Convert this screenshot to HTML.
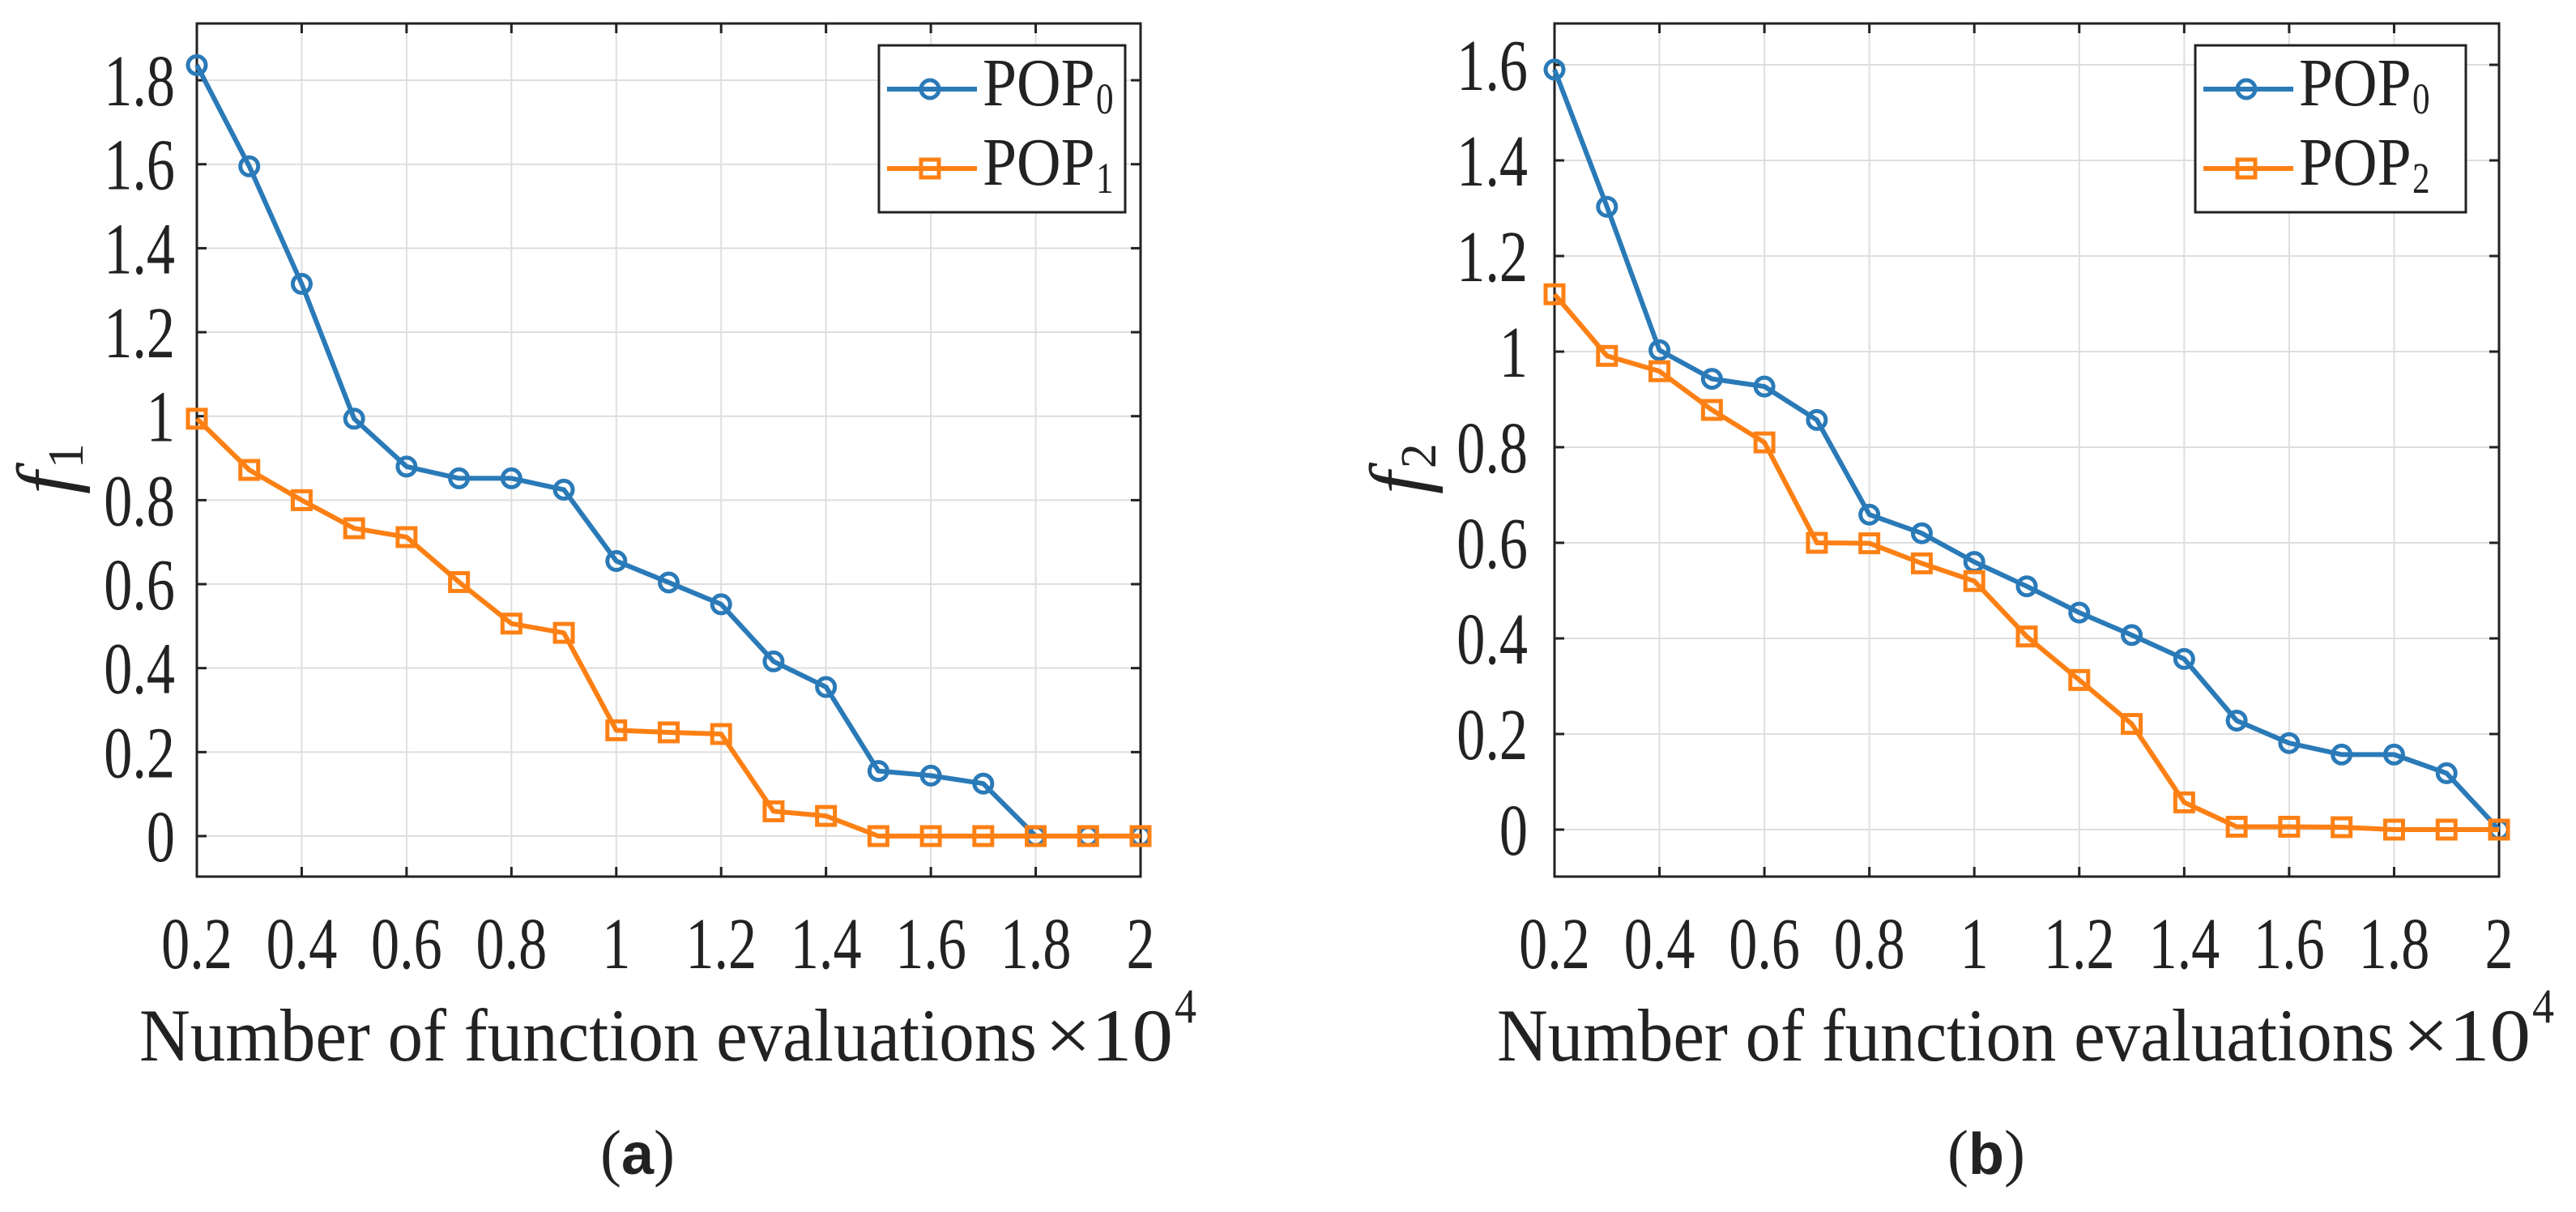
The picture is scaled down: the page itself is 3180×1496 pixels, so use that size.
<!DOCTYPE html>
<html><head><meta charset="utf-8">
<style>
html,body{margin:0;padding:0;background:#fff;}
svg{display:block;}
text{font-family:"Liberation Serif",serif;fill:#222;}
</style></head>
<body>
<svg id="fig" width="3180" height="1496" viewBox="0 0 3180 1496" xmlns="http://www.w3.org/2000/svg"></svg>
<script>
const xValues = [0.2,0.3,0.4,0.5,0.6,0.7,0.8,0.9,1.0,1.1,1.2,1.3,1.4,1.5,1.6,1.7,1.8,1.9,2.0];
const a_pop0 = [1.836,1.595,1.315,0.994,0.88,0.852,0.852,0.825,0.655,0.604,0.552,0.416,0.355,0.155,0.144,0.125,0,0,0];
const a_pop1 = [0.994,0.872,0.80,0.733,0.712,0.605,0.506,0.484,0.252,0.247,0.243,0.059,0.048,0,0,0,0,0,0];
const b_pop0 = [1.59,1.303,1.003,0.943,0.927,0.857,0.659,0.62,0.56,0.509,0.454,0.407,0.357,0.228,0.181,0.157,0.157,0.118,0];
const b_pop2 = [1.12,0.991,0.959,0.878,0.81,0.6,0.599,0.557,0.52,0.404,0.313,0.221,0.057,0.006,0.006,0.005,0,0,0];
const xTicks = [0.2,0.4,0.6,0.8,1,1.2,1.4,1.6,1.8,2];
const xTickLabels = ["0.2","0.4","0.6","0.8","1","1.2","1.4","1.6","1.8","2"];
const aYTicks = [0,0.2,0.4,0.6,0.8,1,1.2,1.4,1.6,1.8];
const aYTickLabels = ["0","0.2","0.4","0.6","0.8","1","1.2","1.4","1.6","1.8"];
const bYTicks = [0,0.2,0.4,0.6,0.8,1,1.2,1.4,1.6];
const bYTickLabels = ["0","0.2","0.4","0.6","0.8","1","1.2","1.4","1.6"];

const NS="http://www.w3.org/2000/svg";
const svg=document.getElementById('fig');
const BLUE="#2a7ab8", ORANGE="#fd8014";
function mk(tag,attrs,parent){const e=document.createElementNS(NS,tag);for(const k in attrs)e.setAttribute(k,attrs[k]);(parent||svg).appendChild(e);return e;}

function panel(cfg){
  const g=mk('g',{});
  
  
  const L=cfg.left,R=cfg.right,T=29,B=1082;
  const X=v=>L+(v-0.2)/1.8*(R-L);
  const Y=v=>cfg.y0-v*cfg.unit;
  // grid
  xTicks.forEach(v=>{const l=mk('line',{x1:X(v),x2:X(v),y1:T,y2:B,stroke:'#dedede','stroke-width':2},g);
    });
  cfg.yTicks.forEach(v=>{const l=mk('line',{x1:L,x2:R,y1:Y(v),y2:Y(v),stroke:'#dedede','stroke-width':2},g);
    });
  // ticks
  xTicks.forEach((v,i)=>{
    mk('line',{x1:X(v),x2:X(v),y1:B,y2:B-12,stroke:'#222','stroke-width':3},g);
    mk('line',{x1:X(v),x2:X(v),y1:T,y2:T+12,stroke:'#222','stroke-width':3},g);
    const t=mk('text',{x:0,y:0,'font-size':90,'text-anchor':'middle',transform:`translate(${X(v)},1195) scale(0.78,1)`},g);
    t.textContent=xTickLabels[i];
    
  });
  cfg.yTicks.forEach((v,i)=>{
    mk('line',{x1:L,x2:L+12,y1:Y(v),y2:Y(v),stroke:'#222','stroke-width':3},g);
    mk('line',{x1:R,x2:R-12,y1:Y(v),y2:Y(v),stroke:'#222','stroke-width':3},g);
    const t=mk('text',{x:0,y:0,'font-size':90,'text-anchor':'end',transform:`translate(${cfg.ylabX},${Y(v)+31}) scale(0.78,1)`},g);
    t.textContent=cfg.yTickLabels[i];
    
  });
  // axes box
  const box=mk('rect',{x:L,y:T,width:R-L,height:B-T,fill:'none',stroke:'#222','stroke-width':3},g);
  
  // series
  function series(vals,color,marker,nm){
    const sg=mk('g',{},g);
    
    const pts=vals.map((v,i)=>X(xValues[i])+','+Y(v)).join(' ');
    mk('polyline',{points:pts,fill:'none',stroke:color,'stroke-width':6,'stroke-linejoin':'round'},sg);
    vals.forEach((v,i)=>{
      let m;
      if(marker==='o') m=mk('circle',{cx:X(xValues[i]),cy:Y(v),r:11,fill:'none',stroke:color,'stroke-width':5},sg);
      else m=mk('rect',{x:X(xValues[i])-11,y:Y(v)-11,width:22,height:22,fill:'none',stroke:color,'stroke-width':5},sg);
      
    });
  }
  series(cfg.s1,BLUE,'o','series-pop0');
  series(cfg.s2,ORANGE,'s','series-'+cfg.s2name.toLowerCase());
  // legend
  const lg=mk('g',{},g);
  
  const lx=cfg.legX,lw=cfg.legW;
  mk('rect',{x:lx,y:56,width:lw,height:206,fill:'#fff',stroke:'#222','stroke-width':3},lg);
  [[110,BLUE,'o','0'],[208,ORANGE,'s',cfg.s2sub]].forEach(r=>{
    const eg=mk('g',{},lg);
    
    mk('line',{x1:lx+10,x2:lx+121,y1:r[0],y2:r[0],stroke:r[1],'stroke-width':6},eg);
    if(r[2]==='o') mk('circle',{cx:lx+63,cy:r[0],r:11,fill:'none',stroke:r[1],'stroke-width':5},eg);
    else mk('rect',{x:lx+52,y:r[0]-11,width:22,height:22,fill:'none',stroke:r[1],'stroke-width':5},eg);
    const t=mk('text',{x:0,y:0,'font-size':84,transform:`translate(${lx+128},${r[0]+20}) scale(0.9,1)`},eg);
    t.textContent='POP';
    const s=mk('text',{x:0,y:0,'font-size':54,transform:`translate(${lx+268},${r[0]+30}) scale(0.8,1)`},eg);
    s.textContent=r[3];
  });
  // x label
  const xl=mk('g',{},g);
  
  const off=cfg.off;
  const t1=mk('text',{x:172+off,y:1309,'font-size':92,textLength:1108,lengthAdjust:'spacingAndGlyphs'},xl);
  t1.textContent='Number of function evaluations';
  const t2=mk('text',{x:1290+off,y:1309,'font-size':92,textLength:158,lengthAdjust:'spacingAndGlyphs'},xl);
  t2.textContent='×10';
  const t3=mk('text',{x:1450+off,y:1262,'font-size':60,textLength:27,lengthAdjust:'spacingAndGlyphs'},xl);
  t3.textContent='4';
  // y label
  const yl=mk('text',{x:0,y:0,'font-size':100,'font-style':'italic',transform:`translate(${cfg.fx},${cfg.fy}) rotate(-90)`},g);
  
  const f=mk('tspan',{},yl);f.textContent='f';
  const sub=mk('tspan',{'font-style':'normal','font-size':62,dy:12,dx:4},yl);sub.textContent=cfg.fsub;
  // caption
  const cap=mk('text',{x:cfg.capX,y:1449,'font-size':78,'text-anchor':'middle'},g);
  
  const p1=mk('tspan',{},cap);p1.textContent='(';
  const p2=mk('tspan',{'font-family':'Liberation Sans, sans-serif','font-weight':'bold','font-size':72},cap);p2.textContent=cfg.cap;
  const p3=mk('tspan',{},cap);p3.textContent=')';
}

panel({name:'panel-a',left:243,right:1408,y0:1032,unit:518.3,yTicks:aYTicks,yTickLabels:aYTickLabels,ylabX:216,
  s1:a_pop0,s2:a_pop1,s2name:'POP1',s2sub:'1',legX:1085,legW:304,off:0,fx:90,fy:610,fsub:'1',capX:787,cap:'a'});
panel({name:'panel-b',left:1919,right:3085,y0:1024,unit:590,yTicks:bYTicks,yTickLabels:bYTickLabels,ylabX:1886,
  s1:b_pop0,s2:b_pop2,s2name:'POP2',s2sub:'2',legX:2710,legW:334,off:1676,fx:1760,fy:610,fsub:'2',capX:2452,cap:'b'});
</script>
</body></html>
